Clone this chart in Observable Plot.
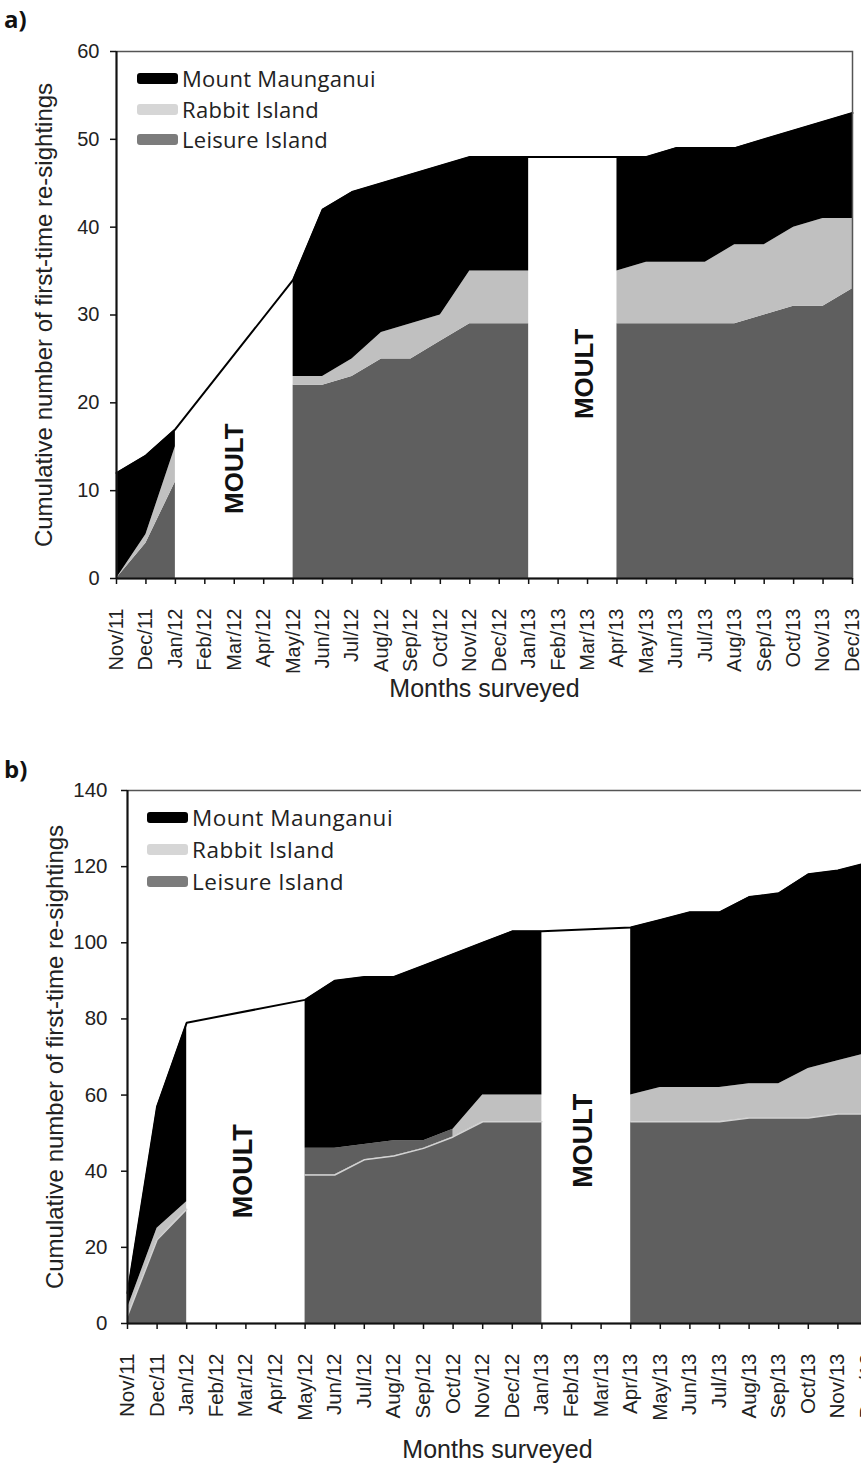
<!DOCTYPE html>
<html><head><meta charset="utf-8">
<script src="https://cdn.jsdelivr.net/npm/d3@7"></script>
<script src="https://cdn.jsdelivr.net/npm/@observablehq/plot@0.6"></script>
<style>
html,body{margin:0;padding:0;background:#fff;width:861px;height:1470px;overflow:hidden;position:relative}
.panel{position:absolute;left:0}
.panel svg{max-width:none !important;display:block}
.plabel{position:absolute;left:4px;font:bold 24px "Open Sans", Lato, sans-serif;color:#111}
.lrow{position:absolute;display:flex;align-items:center;white-space:nowrap;font-family:"Open Sans",Lato,sans-serif;color:#222}
.sw{display:inline-block;width:41px;height:11px;border-radius:3px;margin-right:4px}
</style></head><body>
<div id="a" class="panel" style="top:0"></div>
<div id="b" class="panel" style="top:740px"></div>
<div class="plabel" style="top:2px">a)</div>
<div class="plabel" style="top:752px">b)</div>
<div id="legA"></div>
<div id="legB"></div>
<script>
const months = ["Nov/11","Dec/11","Jan/12","Feb/12","Mar/12","Apr/12","May/12","Jun/12","Jul/12","Aug/12","Sep/12","Oct/12","Nov/12","Dec/12","Jan/13","Feb/13","Mar/13","Apr/13","May/13","Jun/13","Jul/13","Aug/13","Sep/13","Oct/13","Nov/13","Dec/13"];
const sites = ["Mount Maunganui","Rabbit Island","Leisure Island"];

// Panel a: monthly cumulative counts per site (null = moult, not surveyed)
const leisureA = [0,4,11,null,null,null,22,22,23,25,25,27,29,29,29,null,null,29,29,29,29,29,30,31,31,33];
const rabbitA  = [0,1,4,null,null,null,1,1,2,3,4,3,6,6,6,null,null,6,7,7,7,9,8,9,10,8];
const mountA   = [12,9,2,null,null,null,11,19,19,17,17,17,13,13,13,null,null,13,12,13,13,11,12,11,11,12];

// Panel b
const leisureB = [2,22,30,null,null,null,39,39,43,44,46,49,53,53,53,null,null,53,53,53,53,54,54,54,55,55];
const rabbitB  = [2,3,2,null,null,null,7,7,4,4,2,2,7,7,7,null,null,7,9,9,9,9,9,13,14,16];
const mountB   = [4,32,47,null,null,null,39,44,44,43,46,46,40,43,43,null,null,44,44,46,46,49,50,51,50,50];

const yTicksA = [0,10,20,30,40,50,60];
const yTicksB = [0,20,40,60,80,100,120,140];

const moultA = [{x:4.0, y:12.5},{x:15.9, y:23.3}];
const moultB = [{x:3.9, y:40},{x:15.4, y:48}];

const colors = {mount:"#000000", rabbit:"#c0c0c0", leisure:"#5f5f5f"};
const legendColors = ["#000000","#d6d6d6","#7c7c7c"];

function build(leisure, rabbit, mount) {
  return months.map((m, i) => {
    if (leisure[i] == null) return {i, m, l: null, r: null, t: null};
    const l = leisure[i], r = l + rabbit[i], t = r + mount[i];
    return {i, m, l, r, t};
  });
}

function panel({rows, yTicks, width, height, marginLeft, marginRight, marginTop, marginBottom, moults, darkBand, edgeLine, moultSize, tickFont, yPad, xPad, titleDy}) {
  const yMax = yTicks[yTicks.length-1];
  const lightDef = d => !darkBand || d.i <= 2 || d.i >= 11;
  const darkDef = d => darkBand && d.i >= 6 && d.i <= 11;
  const marks = [
    Plot.area(rows, {x1:"i", y1:() => 0, y2:"l", fill:colors.leisure, curve:"linear"}),
    Plot.area(rows, {x1:"i", y1:d => lightDef(d) ? d.l : null, y2:d => lightDef(d) ? d.r : null, fill:colors.rabbit}),
    Plot.area(rows, {x1:"i", y1:d => darkDef(d) ? d.l : null, y2:d => darkDef(d) ? d.r : null, fill:colors.leisure}),
    Plot.area(rows, {x1:"i", y1:"r", y2:"t", fill:colors.mount}),
  ];
  if (edgeLine) marks.push(Plot.line(rows, {x:"i", y:"l", stroke:"#d4d4d4", strokeWidth:1.5}));
  marks.push(
    Plot.line(rows.filter(d => d.t != null), {x:"i", y:"t", stroke:"#000", strokeWidth:2}),
    Plot.frame({stroke:"#555", strokeWidth:1.5}),
    Plot.ruleY([0], {stroke:"#111", strokeWidth:2}),
    Plot.ruleX([0], {stroke:"#111", strokeWidth:2}),
    Plot.axisY({ticks:yTicks, tickSize:6, tickPadding:yPad, fontSize:tickFont, label:null, stroke:"#111", strokeWidth:1.5}),
    Plot.axisX({ticks:d3.range(months.length), tickFormat:i => months[i], tickRotate:-90, tickSize:6, tickPadding:xPad, fontSize:tickFont, label:null, stroke:"#111", strokeWidth:1.5}),
    Plot.text(moults, {x:"x", y:"y", text:() => "MOULT", rotate:-90, fontWeight:"bold", fontSize:moultSize, fill:"#111"}),
    Plot.text(["Months surveyed"], {text:d => d, frameAnchor:"bottom", dy:titleDy, fontSize:25, fill:"#222"}),
    Plot.text(["Cumulative number of first-time re-sightings"], {text:d => d, frameAnchor:"left", textAnchor:"middle", dx:-72, rotate:-90, fontSize:24, fill:"#222"})
  );
  return Plot.plot({
    width, height, marginLeft, marginRight, marginTop, marginBottom,
    x:{domain:[0, months.length-1]},
    y:{domain:[0, yMax]},
    style:{fontFamily:"'Liberation Sans', Arial, sans-serif", color:"#222", background:"white", overflow:"visible"},
    marks
  });
}

document.getElementById("a").appendChild(panel({
  rows: build(leisureA, rabbitA, mountA), yTicks: yTicksA,
  width:861, height:720, marginLeft:116, marginRight:9, marginTop:51, marginBottom:142,
  moults: moultA, darkBand:false, edgeLine:false, moultSize:26, tickFont:20, yPad:11, xPad:24, titleDy:118
}));
document.getElementById("b").appendChild(panel({
  rows: build(leisureB, rabbitB, mountB), yTicks: yTicksB,
  width:876, height:730, marginLeft:127, marginRight:9, marginTop:50, marginBottom:147,
  moults: moultB, darkBand:true, edgeLine:true, moultSize:27, tickFont:20.5, yPad:14, xPad:24, titleDy:134
}));

function legend(id, x, ys, size, ls) {
  const el = document.getElementById(id);
  sites.forEach((s, k) => {
    const row = document.createElement("div");
    row.className = "lrow";
    row.style.left = x + "px";
    row.style.top = (ys[k] - 15) + "px";
    row.style.height = "30px";
    row.style.fontSize = size + "px";
    row.style.letterSpacing = ls + "px";
    const sw = document.createElement("span");
    sw.className = "sw";
    sw.style.background = legendColors[k];
    row.appendChild(sw);
    row.appendChild(document.createTextNode(s));
    el.appendChild(row);
  });
}
legend("legA", 137, [78,109,139], 22, 0.3);
legend("legB", 147, [817,849,881], 22.5, 0.5);
</script>
</body></html>
